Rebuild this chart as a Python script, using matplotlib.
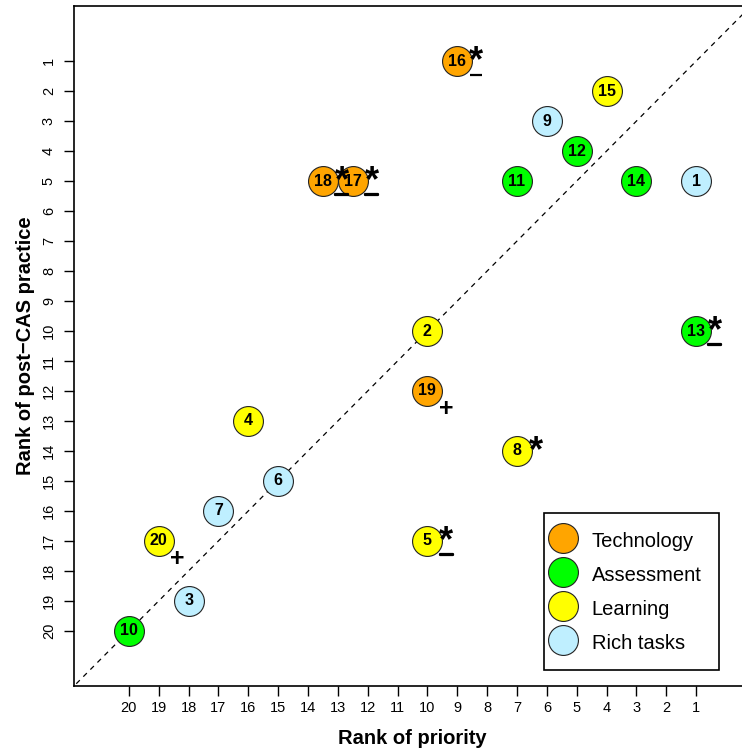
import matplotlib
matplotlib.use("Agg")
import matplotlib.pyplot as plt
import matplotlib.patheffects as pe
from matplotlib.lines import Line2D

plt.rcParams['font.family'] = ['Liberation Sans', 'DejaVu Sans']

# item number, rank of priority, rank of post-CAS practice, group
items = [16, 15, 9, 12, 11, 14, 1, 18, 17, 2, 13, 19, 4, 8, 6, 7, 20, 5, 3, 10]
priority = [9, 4, 6, 5, 7, 3, 1, 13.5, 12.5, 10, 1, 10, 16, 7, 15, 17, 19, 10, 18, 20]
practice = [1, 2, 3, 4, 5, 5, 5, 5, 5, 10, 10, 12, 13, 14, 15, 16, 17, 17, 19, 20]
group = ["Technology", "Learning", "Rich tasks", "Assessment", "Assessment",
         "Assessment", "Rich tasks", "Technology", "Technology", "Learning",
         "Assessment", "Technology", "Learning", "Learning", "Rich tasks",
         "Rich tasks", "Learning", "Learning", "Rich tasks", "Assessment"]

# significance marks: star above, sign below
star_items = [16, 18, 17, 13, 8, 5]
sign_items = {16: "_", 18: "_", 17: "_", 13: "_", 5: "_", 19: "+", 20: "+"}

groups = ["Technology", "Assessment", "Learning", "Rich tasks"]
colors = {"Technology": "#FFA500", "Assessment": "#00FF00",
          "Learning": "#FFFF00", "Rich tasks": "#BFEFFF"}
ticks = list(range(1, 21))

fig = plt.figure(figsize=(7.42, 7.51), dpi=100)
ax = fig.add_axes([74 / 742, 65 / 751, 677 / 742, 680 / 751])
ax.set_xlim(21.84, -0.84)
ax.set_ylim(21.84, -0.84)

ax.axline((0, 0), slope=1, color="black", lw=0.9, ls=(0, (4, 4)), zorder=1)

for it, x, y, g in zip(items, priority, practice, group):
    ax.plot(x, y, "o", ms=21.5, mfc=colors[g], mec="#222222", mew=0.8, zorder=3)
    ax.text(x, y, str(it), ha="center", va="center", fontsize=11.5,
            fontweight="bold", zorder=4)
    if it in star_items:
        ax.text(x - 0.63, y + 0.02, "*", ha="center", va="center",
                fontsize=26, fontweight="bold", zorder=5)
    if it in sign_items:
        s = sign_items[it]
        if s == "_":
            ax.text(x - 0.63, y + 0.2, s, ha="center", va="center",
                    fontsize=16, fontweight="bold", zorder=5,
                    path_effects=[pe.withStroke(linewidth=1.6,
                                                foreground="black")])
        else:
            ax.text(x - 0.62, y + 0.6, s, ha="center", va="center",
                    fontsize=18, fontweight="bold", zorder=5)

ax.set_xticks(ticks)
ax.set_yticks(ticks)
ax.tick_params(axis="x", length=7, width=1, pad=4, labelsize=10.5)
ax.tick_params(axis="y", length=7, width=1, pad=6, labelsize=10.5,
               labelrotation=90)
for lab in ax.get_yticklabels():
    lab.set_va("center")
for sp in ax.spines.values():
    sp.set_linewidth(1.2)

ax.set_xlabel("Rank of priority", fontsize=14.5, fontweight="bold", labelpad=10)
ax.set_ylabel("Rank of post\u2212CAS practice", fontsize=14.5,
              fontweight="bold", labelpad=5)

handles = [Line2D([], [], marker="o", ls="", ms=21.5, mfc=colors[g],
                  mec="#222222", mew=0.8) for g in groups]
leg = ax.legend(handles, groups, loc="lower right",
                bbox_to_anchor=(0.952, 0.0235), borderaxespad=0,
                fontsize=14.5, fancybox=False, edgecolor="black",
                framealpha=1, labelspacing=0.64, handleheight=1.2,
                handlelength=0.2, handletextpad=1.3, borderpad=0.85)
leg.get_frame().set_linewidth(1.2)

fig.savefig("out.png", dpi=100)
